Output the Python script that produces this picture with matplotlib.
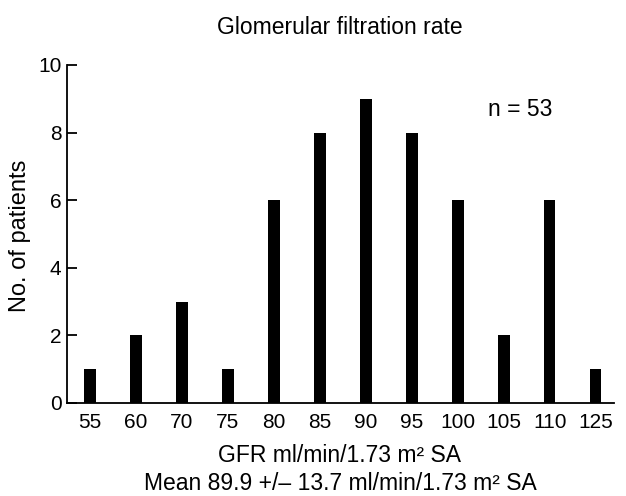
import matplotlib
matplotlib.use("Agg")
import matplotlib.pyplot as plt
import numpy as np

# GFR groups and patient counts
gfr_groups = ["55", "60", "70", "75", "80", "85", "90", "95", "100", "105", "110", "125"]
patients = [1, 2, 3, 1, 6, 8, 9, 8, 6, 2, 6, 1]
y_ticks = [0, 2, 4, 6, 8, 10]

plt.rcParams["font.family"] = ["Liberation Sans", "DejaVu Sans"]

fig = plt.figure(figsize=(6.26, 4.96), dpi=100)
ax = fig.add_axes([0.107, 0.1875, 0.874, 0.6815])

x = np.arange(len(gfr_groups))
ax.bar(x, patients, width=0.25, color="black")

ax.set_xlim(-0.5, 11.4)
ax.set_ylim(0, 10)
ax.set_xticks(x)
ax.set_xticklabels(gfr_groups, fontsize=15)
ax.set_yticks(y_ticks)
ax.set_yticklabels([str(t) for t in y_ticks], fontsize=15)
ax.tick_params(axis="x", length=0, pad=7)
ax.tick_params(axis="y", direction="in", length=7, width=1.3, pad=4)

for s in ["top", "right"]:
    ax.spines[s].set_visible(False)
for s in ["left", "bottom"]:
    ax.spines[s].set_linewidth(1.3)

fig.text(20 / 626, 1 - 236 / 496, "No. of patients", fontsize=17, rotation=90,
         ha="center", va="center")
fig.text(0.543, 1 - 456 / 496, "GFR ml/min/1.73 m² SA", fontsize=16.5,
         ha="center", va="center")
fig.text(0.543, 1 - 483 / 496, "Mean 89.9 +/– 13.7 ml/min/1.73 m² SA", fontsize=16.5,
         ha="center", va="center")
fig.text(0.543, 1 - 28 / 496, "Glomerular filtration rate", fontsize=16.5,
         ha="center", va="center")
ax.text(9.35, 8.67, "n = 53", fontsize=16.5, ha="center", va="center")

fig.savefig("out.png", dpi=100)
